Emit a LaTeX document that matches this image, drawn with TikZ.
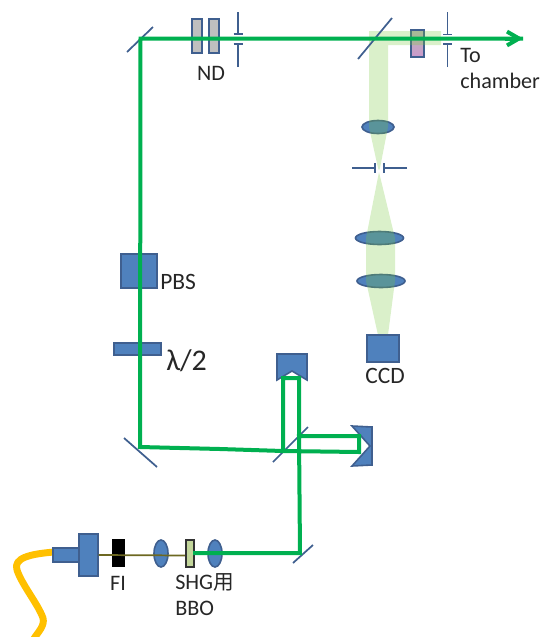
\documentclass[tikz,border=0pt]{standalone}
\usepackage{fontspec}
\setmainfont{Carlito}
\newfontfamily\cjkfont{Noto Sans CJK JP}
\usetikzlibrary{arrows.meta}
\definecolor{beamgreen}{HTML}{00B050}
\definecolor{palegreen}{HTML}{78C83C}
\definecolor{optblue}{HTML}{4F81BD}
\definecolor{optedge}{HTML}{3F5F8F}
\definecolor{fiberyellow}{HTML}{FFC000}
\tikzset{
  x=0.75pt,y=-0.75pt,
  beam/.style={draw=beamgreen,line width=3pt,line join=miter},
  halo/.style={fill=palegreen,fill opacity=0.27,draw=none},
  optic/.style={fill=optblue,draw=optedge,line width=1.2pt},
  mirrorline/.style={draw=optedge,line width=1.3pt},
  stopline/.style={draw=optedge,line width=1.3pt},
  ndplate/.style={fill=black!25,draw=optedge,line width=1.3pt},
  lbl/.style={font=\fontsize{16.6pt}{18pt}\selectfont,text=black!85,inner sep=0pt},
  lblbig/.style={lbl,font=\fontsize{17.6pt}{19pt}\selectfont},
}
\begin{document}
\begin{tikzpicture}
\useasboundingbox (0,0) rectangle (541,637);

% fibre
\coordinate (fibreA) at (54,552);
\coordinate (fibreB) at (33,640);
\draw[fiberyellow,line width=5.2pt,line join=round]
  (fibreA) .. controls (30,554) and (13,558) .. (17,570)
  .. controls (22,585) and (38,604) .. (43,618)
  .. controls (45,626) and (38,632) .. (fibreB);

% lenses of the imaging arm, under the pale beam
\draw[optic] (378,127) ellipse [x radius=16,y radius=6.5];
\draw[optic] (379.5,238) ellipse [x radius=24,y radius=6.5];
\draw[optic] (381,281) ellipse [x radius=24,y radius=6.5];

% filter
\shade[top color=black!28,bottom color=violet!40] (411,30) rectangle (424,57);
\draw[draw=optedge,line width=1.4pt] (411,30) rectangle (424,57);

% pale beam
\fill[halo] (369,31) -- (441,31) -- (441,45) -- (388,45) -- (388,127)
  -- (380,168) -- (379,170) -- (378,168) -- (369,127) -- cycle;
\fill[halo] (379,172) -- (395,238) -- (395,281) -- (388,335) -- (378,335) -- (366,281) -- (366,238) -- cycle;

% boxes
\node[optic,minimum width=24pt,minimum height=20.5pt,inner sep=0pt] (ccd) at (383,348.5) {};
\node[optic,minimum width=27pt,minimum height=25.5pt,inner sep=0pt] (pbs) at (139,271) {};
\node[optic,minimum width=35pt,minimum height=9pt,inner sep=0pt] (hwp) at (137.5,349) {};

% ND filters
\node[ndplate,minimum width=7.5pt,minimum height=25.5pt,inner sep=0pt] (nda) at (197,36) {};
\node[ndplate,minimum width=7.5pt,minimum height=25.5pt,inner sep=0pt] (ndb) at (214,36) {};

% collimator and bench optics
\node[optic,minimum width=20pt,minimum height=10.5pt,inner sep=0pt] (colla) at (66.5,555) {};
\node[optic,minimum width=14pt,minimum height=31.5pt,inner sep=0pt] (collb) at (88.5,555) {};
\node[fill=black,minimum width=9.7pt,minimum height=21pt,inner sep=0pt] (fi) at (118.5,553) {};
\draw[optic] (161,553.5) ellipse [x radius=7,y radius=13.5];
\draw[optic] (215,553.5) ellipse [x radius=7,y radius=13.5];
\draw[draw=olive!70!black,line width=1.3pt] (collb.east) -- (187,555.5);
\node[fill={rgb,255:red,195;green,214;blue,155},draw=black!80,line width=1.1pt,minimum width=6pt,minimum height=20.3pt,inner sep=0pt] (bbo) at (190,553.5) {};

% retro-reflectors
\draw[optic] (277,354) -- (307,354) -- (307,380) -- (292,371) -- (277,380) -- cycle;
\draw[optic] (352,426) -- (372,427) -- (372,465) -- (352,466) -- (370,446) -- cycle;

% mirrors
\draw[mirrorline] (127,52) -- (153,27);
\draw[mirrorline] (358,59) -- (392,18);
\draw[mirrorline] (124,438) -- (157,467);
\draw[mirrorline] (273,462) -- (308,427);
\draw[mirrorline] (293,563) -- (313,545);

% apertures
\draw[stopline] (238,12) -- (238,34) (233.5,34) -- (243,34);
\draw[stopline] (238,67) -- (238,44) (233.5,44) -- (243,44);
\draw[stopline] (447.5,12) -- (447.5,34) (443,34.5) -- (452,34.5);
\draw[stopline] (447.5,67) -- (447.5,44) (443,44) -- (452,44);
\draw[stopline] (352,168) -- (375,168) (375,163) -- (375,173);
\draw[stopline] (407,168) -- (384,168) (384,163) -- (384,173);

% green beam
\coordinate (b0) at (193,553);
\coordinate (b1) at (300,553);
\coordinate (b2) at (299,436);
\coordinate (b3) at (359,436);
\coordinate (b4) at (359,452);
\coordinate (b5) at (283,451);
\coordinate (b6) at (283,378);
\coordinate (b7) at (299,378);
\coordinate (b8) at (140,447);
\coordinate (b9) at (140.5,38.5);
\coordinate (b10) at (523,38.5);
\draw[beam] (b0) -- (b1) -- (b2) -- (b3) -- (b4) -- (b5) -- (b6) -- (b7) -- (b2);
\draw[beam] (b5) -- (220,449) -- (b8) -- (b9) -- (b10);
\draw[beam,-{Straight Barb[length=9pt,width=13pt,angle'=60]}] (505,38.5) -- (b10);

% labels
\node[lbl] (ndlabel) at (211,73) {ND};
\node[lbl,anchor=west] (tolabel) at (460,55) {To};
\node[lbl,anchor=west] (chamberlabel) at (460,81) {chamber};
\node[lblbig] (ccdlabel) at (385,376) {CCD};
\node[lblbig,anchor=west] (pbslabel) at (160,282) {PBS};
\node[lbl,anchor=west,font=\fontsize{22.5pt}{24pt}\selectfont] (wavelabel) at (166,361) {λ/2};
\node[lbl] (filabel) at (118,583) {FI};
\node[lbl,anchor=west] (shglabel) at (175,582) {SHG{\cjkfont\fontsize{15.5pt}{18pt}\selectfont 用}};
\node[lbl,anchor=west] (bbolabel) at (175,608) {BBO};
\end{tikzpicture}
\end{document}
